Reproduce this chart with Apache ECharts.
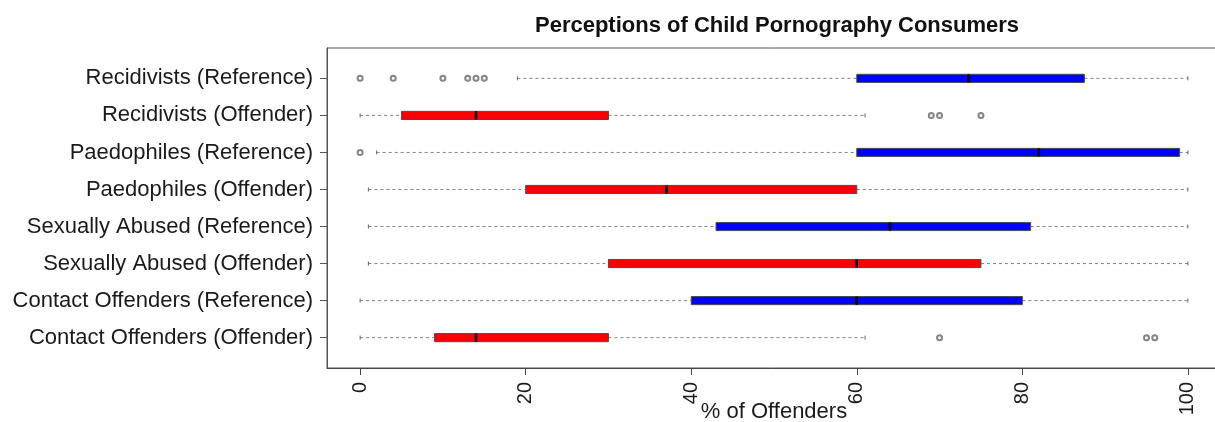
<!DOCTYPE html>
<html>
<head>
<meta charset="utf-8">
<title>Perceptions of Child Pornography Consumers</title>
<script src="https://cdn.jsdelivr.net/npm/echarts@6/dist/echarts.min.js"></script>
<style>
  html, body { margin: 0; padding: 0; background: #ffffff; }
  #chart { width: 1215px; height: 422px; }
</style>
</head>
<body>
<div id="chart"></div>
<script>
// Rows, listed top to bottom
const categories = [
  'Recidivists (Reference)',
  'Recidivists (Offender)',
  'Paedophiles (Reference)',
  'Paedophiles (Offender)',
  'Sexually Abused (Reference)',
  'Sexually Abused (Offender)',
  'Contact Offenders (Reference)',
  'Contact Offenders (Offender)'
];
const group = ['Reference', 'Offender', 'Reference', 'Offender', 'Reference', 'Offender', 'Reference', 'Offender'];

// Five-number summaries (% of offenders)
const lowWhisker  = [19, 0,  2,  1,  1,  1,  0,  0];
const q1          = [60, 5,  60, 20, 43, 30, 40, 9];
const median      = [73.5, 14, 82, 37, 64, 60, 60, 14];
const q3          = [87.5, 30, 99, 60, 81, 75, 80, 30];
const highWhisker = [100, 61, 100, 100, 100, 100, 100, 61];

// Points beyond the whiskers
const outliers = [
  [0, 4, 10, 13, 14, 15],
  [69, 70, 75],
  [0],
  [],
  [],
  [],
  [],
  [70, 95, 96]
];

const xTicks = [0, 20, 40, 60, 80, 100];

const groupColor = { Reference: '#0000ff', Offender: '#ff0000' };
const FONT = "'Liberation Sans', Arial, Helvetica, sans-serif";

// Each row sits at position 1..n on the vertical axis
const rowPos = categories.map((c, i) => i + 1);
// Axis ranges padded by 4% as in a base-graphics box plot
const xPad = (xTicks[xTicks.length - 1] - xTicks[0]) * 0.04;
const yMin = 0.5 - categories.length * 0.04;
const yMax = categories.length + 0.5 + categories.length * 0.04;

const boxData = categories.map((c, i) => [rowPos[i], lowWhisker[i], q1[i], median[i], q3[i], highWhisker[i], i]);
const outlierData = [];
outliers.forEach((vals, i) => vals.forEach(v => outlierData.push([v, rowPos[i]])));

function renderBox(params, api) {
  const pos = api.value(0);
  const idx = api.value(6);
  const y = api.coord([0, pos])[1];
  const unit = api.size([0, 1])[1];
  const h = unit * 0.22;
  const xLow = api.coord([api.value(1), pos])[0];
  const xQ1 = api.coord([api.value(2), pos])[0];
  const xMed = api.coord([api.value(3), pos])[0];
  const xQ3 = api.coord([api.value(4), pos])[0];
  const xHigh = api.coord([api.value(5), pos])[0];
  const fill = groupColor[group[idx]];
  const dash = { stroke: '#808080', lineWidth: 1, lineDash: [3, 3] };
  const cap = { stroke: '#666666', lineWidth: 1 };
  return {
    type: 'group',
    children: [
      { type: 'line', shape: { x1: xLow, y1: y, x2: xQ1, y2: y }, style: dash },
      { type: 'line', shape: { x1: xQ3, y1: y, x2: xHigh, y2: y }, style: dash },
      { type: 'line', shape: { x1: xLow, y1: y - 2, x2: xLow, y2: y + 2 }, style: cap },
      { type: 'line', shape: { x1: xHigh, y1: y - 2, x2: xHigh, y2: y + 2 }, style: cap },
      { type: 'rect', shape: { x: xQ1, y: y - h / 2, width: xQ3 - xQ1, height: h },
        style: { fill: fill, stroke: '#4d4d4d', lineWidth: 1 } },
      { type: 'line', shape: { x1: xMed, y1: y - h / 2, x2: xMed, y2: y + h / 2 },
        style: { stroke: '#000000', lineWidth: 2.5 } }
    ]
  };
}

const chart = echarts.init(document.getElementById('chart'), null, { renderer: 'canvas' });
chart.setOption({
  animation: false,
  backgroundColor: '#ffffff',
  title: {
    text: 'Perceptions of Child Pornography Consumers',
    left: 772,
    top: 10,
    textAlign: 'center',
    textStyle: { fontFamily: FONT, fontSize: 22, fontWeight: 'bold', color: '#111111' }
  },
  grid: {
    left: 327, top: 48, width: 894, height: 320,
    containLabel: false, outerBoundsMode: 'none',
    show: true, borderColor: '#555555', borderWidth: 1, backgroundColor: 'transparent'
  },
  xAxis: {
    type: 'value', min: xTicks[0] - xPad, max: xTicks[xTicks.length - 1] + xPad,
    position: 'bottom',
    axisLine: { show: true, onZero: false, lineStyle: { color: '#444444', width: 1 } },
    axisTick: { show: true, length: 7, customValues: xTicks, lineStyle: { color: '#444444' } },
    axisLabel: { customValues: xTicks, rotate: 90, margin: 14, fontSize: 20, fontFamily: FONT, color: '#1a1a1a' },
    splitLine: { show: false },
    name: '% of Offenders', nameLocation: 'middle', nameGap: 33, nameMoveOverlap: false,
    nameTextStyle: { fontSize: 22, fontFamily: FONT, color: '#1a1a1a' }
  },
  yAxis: {
    type: 'value', min: yMin, max: yMax, inverse: true, position: 'left',
    axisLine: { show: true, onZero: false, lineStyle: { color: '#555555', width: 1 } },
    axisTick: { show: true, length: 7, customValues: rowPos, lineStyle: { color: '#555555' } },
    axisLabel: {
      customValues: rowPos, margin: 14, fontSize: 22, fontFamily: FONT, color: '#1a1a1a',
      formatter: v => categories[Math.round(v) - 1]
    },
    splitLine: { show: false }
  },
  series: [
    {
      type: 'custom',
      renderItem: renderBox,
      encode: { x: [1, 2, 3, 4, 5], y: 0 },
      data: boxData
    },
    {
      type: 'scatter',
      symbol: 'emptyCircle', symbolSize: 5,
      itemStyle: { color: '#666666', borderWidth: 0.9 },
      data: outlierData
    }
  ]
});
</script>
</body>
</html>
